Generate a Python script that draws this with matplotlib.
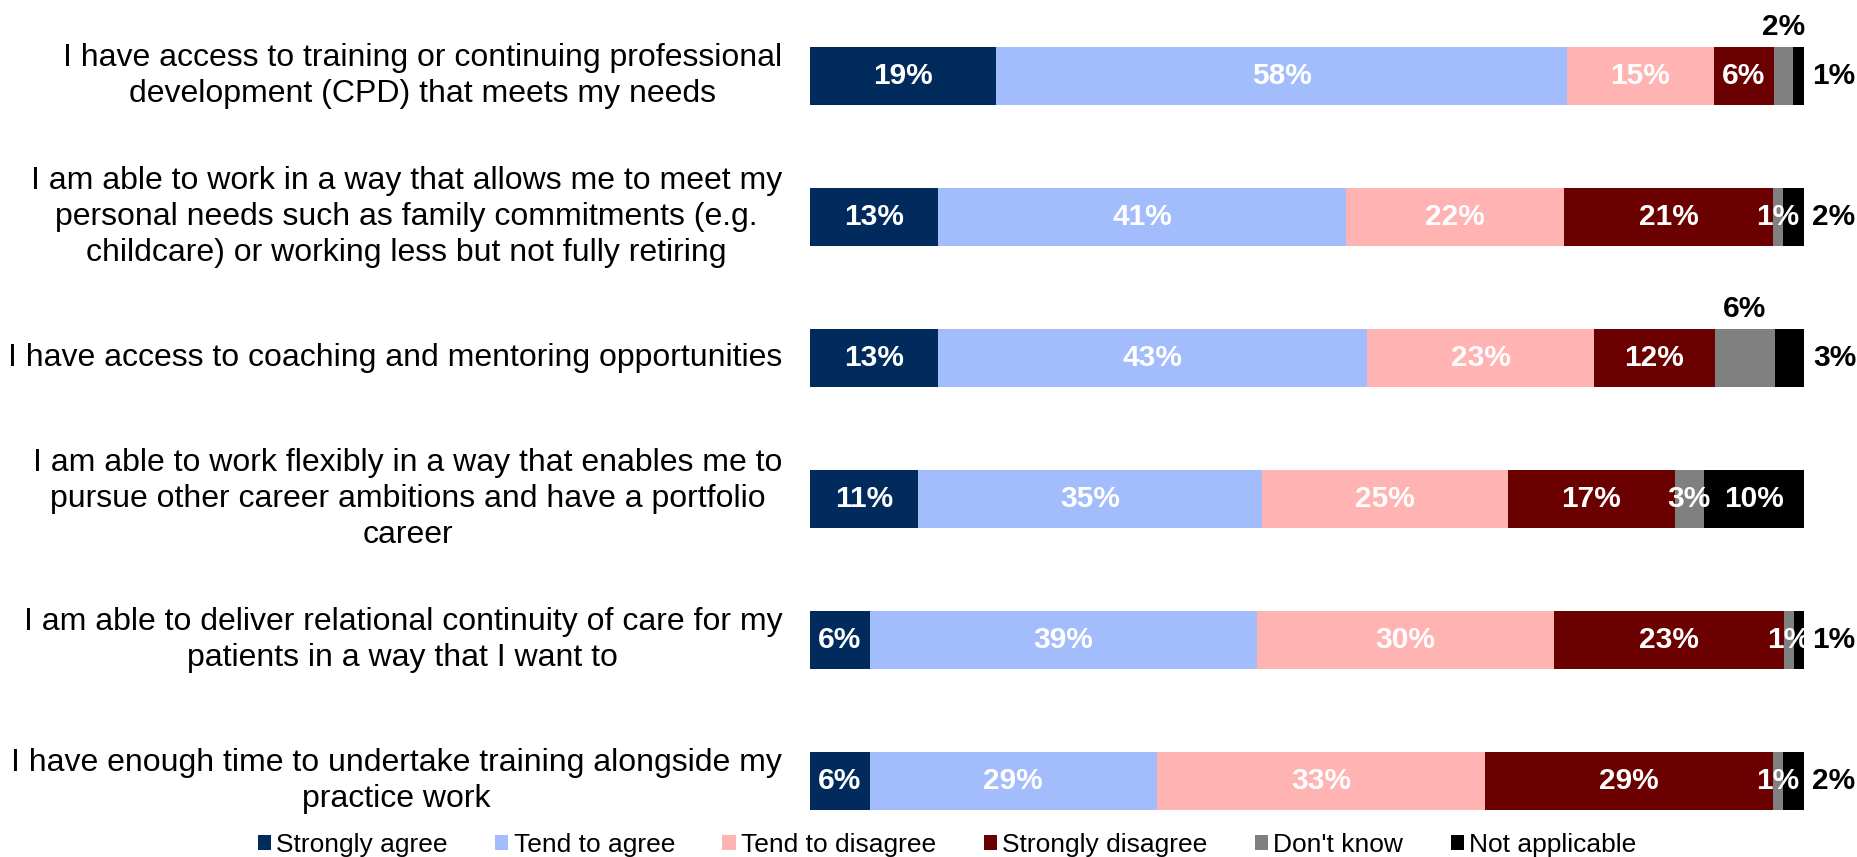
import matplotlib
matplotlib.use("Agg")
import matplotlib.pyplot as plt

plt.rcParams['font.family'] = ['Liberation Sans', 'DejaVu Sans']

categories = [
    "I have access to training or continuing professional\ndevelopment (CPD) that meets my needs",
    "I am able to work in a way that allows me to meet my\npersonal needs such as family commitments (e.g.\nchildcare) or working less but not fully retiring",
    "I have access to coaching and mentoring opportunities",
    "I am able to work flexibly in a way that enables me to\npursue other career ambitions and have a portfolio\ncareer",
    "I am able to deliver relational continuity of care for my\npatients in a way that I want to",
    "I have enough time to undertake training alongside my\npractice work",
]
series_names = ["Strongly agree", "Tend to agree", "Tend to disagree",
                "Strongly disagree", "Don't know", "Not applicable"]
strongly_agree = [18.7, 12.9, 12.9, 10.9, 6.0, 6.0]
tend_agree = [57.5, 41.0, 43.1, 34.6, 39.0, 28.9]
tend_disagree = [14.7, 22.0, 22.9, 24.7, 29.8, 33.0]
strongly_disagree = [6.1, 21.0, 12.1, 16.8, 23.2, 29.0]
dont_know = [1.9, 1.0, 6.1, 2.9, 1.0, 1.0]
not_applicable = [1.1, 2.1, 3.0, 10.1, 1.0, 2.1]
label_values = [
    [19, 58, 15, 6, 2, 1],
    [13, 41, 22, 21, 1, 2],
    [13, 43, 23, 12, 6, 3],
    [11, 35, 25, 17, 3, 10],
    [6, 39, 30, 23, 1, 1],
    [6, 29, 33, 29, 1, 2],
]
colors = ["#002b5c", "#a3bdfc", "#ffb3b3", "#6b0000", "#808080", "#000000"]

series = [strongly_agree, tend_agree, tend_disagree, strongly_disagree,
          dont_know, not_applicable]

W, H = 1858, 857
fig = plt.figure(figsize=(W / 100, H / 100), dpi=100)
top_px, bot_px = 5.5, 851.5
ax = fig.add_axes([810 / W, 1 - bot_px / H, (1804 - 810) / W, (bot_px - top_px) / H])
ax.set_xlim(0, 100)
ax.set_ylim(len(categories) - 0.5, -0.5)
ax.axis('off')

ypos = list(range(len(categories)))
left = [0.0] * len(categories)
handles = []
for k, (vals, col, name) in enumerate(zip(series, colors, series_names)):
    b = ax.barh(ypos, vals, left=left, height=0.405, color=col, label=name)
    handles.append(b)
    for i, v in enumerate(vals):
        x0 = left[i]
        cx = x0 + v / 2
        txt = f"{label_values[i][k]}%"
        fs = 21.5
        if k == 4 and i in (0, 2):
            # above the bar
            ax.text(cx, i - 0.25, txt, ha='center', va='bottom', color='black',
                    fontsize=fs, fontweight='bold')
        elif k == 5 and i != 3:
            ax.text(x0 + v + 0.8, i, txt, ha='left', va='center', color='black',
                    fontsize=fs, fontweight='bold')
        else:
            ax.text(cx, i, txt, ha='center', va='center', color='white',
                    fontsize=fs, fontweight='bold')
    left = [l + v for l, v in zip(left, vals)]

for i, cat in enumerate(categories):
    ax.text(-2.8, i, cat, ha='right', va='center', multialignment='center',
            fontsize=23, color='black', linespacing=1.25, transform=ax.transData)

fig.legend(handles=handles, labels=series_names, loc='center',
           bbox_to_anchor=(947 / W, 1 - 845 / H), ncol=6, frameon=False,
           fontsize=19, handlelength=0.5, handleheight=0.5, handletextpad=0.2,
           columnspacing=1.8, borderpad=0)

fig.savefig("out.png", dpi=100)
